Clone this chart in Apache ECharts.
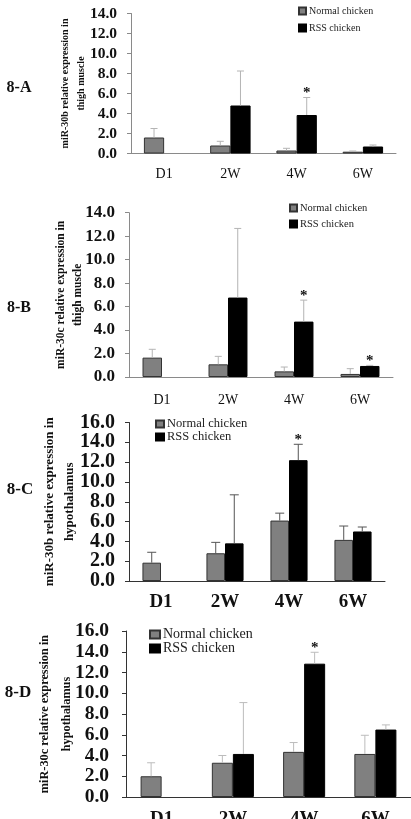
<!DOCTYPE html>
<html lang="en">
<head>
<meta charset="UTF-8">
<title>miR-30b / miR-30c relative expression</title>
<style>
  html, body { margin: 0; padding: 0; background: #fff; }
  #chart { width: 411px; height: 819px; }
</style>
</head>
<body>
<div id="chart"></div>
<script src="https://cdn.jsdelivr.net/npm/echarts@6/dist/echarts.min.js"></script>
<script>
const categories = ['D1', '2W', '4W', '6W'];
const seriesNames = ['Normal chicken', 'RSS chicken'];

// 8-A  miR-30b, thigh muscle
const aNormal   = [1.6, 0.8, 0.3, 0.18];
const aNormalSd = [0.9, 0.42, 0.22, 0.07];
const aRss      = [null, 4.8, 3.85, 0.7];
const aRssSd    = [null, 3.45, 1.75, 0.15];
const aStar     = [0, 0, 1, 0];

// 8-B  miR-30c, thigh muscle
const bNormal   = [1.65, 1.08, 0.48, 0.26];
const bNormalSd = [0.71, 0.68, 0.37, 0.45];
const bRss      = [null, 6.77, 4.72, 0.94];
const bRssSd    = [null, 5.89, 1.83, 0.05];
const bStar     = [0, 0, 1, 1];

// 8-C  miR-30b, hypothalamus
const cNormal   = [1.85, 2.8, 6.1, 4.15];
const cNormalSd = [1.05, 1.1, 0.75, 1.4];
const cRss      = [null, 3.8, 12.2, 5.0];
const cRssSd    = [null, 4.9, 1.6, 0.45];
const cStar     = [0, 0, 1, 0];

// 8-D  miR-30c, hypothalamus
const dNormal   = [2.0, 3.3, 4.35, 4.15];
const dNormalSd = [1.3, 0.7, 0.9, 1.8];
const dRss      = [null, 4.15, 12.85, 6.5];
const dRssSd    = [null, 4.95, 1.1, 0.45];
const dStar     = [0, 0, 1, 0];

const SERIF = "'Liberation Serif', 'Times New Roman', serif";

const panels = [
  { tag: '8-A', yName: 'miR-30b relative expression in\nthigh muscle', max: 14,
    normal: aNormal, normalSd: aNormalSd, rss: aRss, rssSd: aRssSd, star: aStar,
    grid: { left: 131, right: 15, top: 13.5, height: 140 }, gap: 0.39,
    yFont: 15.5, yMargin: 14, xFont: 14, xBold: false, xMargin: 14,
    nameFont: 10, nameLH: 16, nameGap: 42,
    axisColor: '#8a8a8a', errColor: '#b4b4b4', capW: 7,
    legend: { left: 298, top: 2.5, lh: 17, font: 10, w: 7, h: 7 },
    tagPos: [19, 88], tagFont: 16 },
  { tag: '8-B', yName: 'miR-30c relative expression in\nthigh muscle', max: 14,
    normal: bNormal, normalSd: bNormalSd, rss: bRss, rssSd: bRssSd, star: bStar,
    grid: { left: 129, right: 18, top: 212.7, height: 164.3 }, gap: 0.41,
    yFont: 17, yMargin: 14, xFont: 14, xBold: false, xMargin: 16,
    nameFont: 11.5, nameLH: 17, nameGap: 42,
    axisColor: '#8a8a8a', errColor: '#b4b4b4', capW: 7,
    legend: { left: 289, top: 200, lh: 16, font: 10.5, w: 7, h: 7 },
    tagPos: [19, 308], tagFont: 16 },
  { tag: '8-C', yName: 'miR-30b relative expression in\nhypothalamus', max: 16,
    normal: cNormal, normalSd: cNormalSd, rss: cRss, rssSd: cRssSd, star: cStar,
    grid: { left: 129, right: 26, top: 422.5, height: 158.5 }, gap: 0.42,
    yFont: 20, yMargin: 14, xFont: 19, xBold: true, xMargin: 12,
    nameFont: 13, nameLH: 20, nameGap: 49,
    axisColor: '#333', errColor: '#555', capW: 9,
    legend: { left: 155, top: 417.5, lh: 11, font: 12.5, w: 8, h: 7 },
    tagPos: [20, 490], tagFont: 17 },
  { tag: '8-D', yName: 'miR-30c relative expression in\nhypothalamus', max: 16,
    normal: dNormal, normalSd: dNormalSd, rss: dRss, rssSd: dRssSd, star: dStar,
    grid: { left: 126, right: 0, top: 631, height: 166 }, gap: 0.41,
    yFont: 19.5, yMargin: 17, xFont: 19, xBold: true, xMargin: 13,
    nameFont: 12.3, nameLH: 22, nameGap: 48,
    axisColor: '#333', errColor: '#bcbcbc', capW: 8,
    legend: { left: 149, top: 627.5, lh: 13, font: 14, w: 10, h: 8 },
    tagPos: [18, 693], tagFont: 17 }
];

// only the upper half of each error bar is drawn, like the original figure
function errorBars(p, side) {
  return function (params, api) {
    const i = api.value(0), mean = api.value(1), sd = api.value(2), star = api.value(3);
    const bw = api.size([1, 0])[0] * (1 - p.gap) / 2;
    const base = api.coord([i, mean]);
    const x = base[0] + side * bw / 2;
    const yTop = api.coord([i, mean + sd])[1];
    const style = { stroke: p.errColor, lineWidth: 1 };
    const children = [
      { type: 'line', shape: { x1: x, y1: base[1], x2: x, y2: yTop }, style },
      { type: 'line', shape: { x1: x - p.capW / 2, y1: yTop, x2: x + p.capW / 2, y2: yTop }, style }
    ];
    if (star) {
      children.push({ type: 'text', style: {
        text: '*', x: x, y: yTop - 4, align: 'center', verticalAlign: 'middle',
        font: 'bold 15px ' + SERIF, fill: '#111' } });
    }
    return { type: 'group', children };
  };
}

const option = { animation: false, backgroundColor: '#fff',
  grid: [], xAxis: [], yAxis: [], legend: [], series: [], graphic: [] };

panels.forEach((p, k) => {
  option.grid.push(Object.assign({ containLabel: false, outerBoundsMode: 'none' }, p.grid));
  option.xAxis.push({
    type: 'category', gridIndex: k, data: categories,
    axisLine: { lineStyle: { color: p.axisColor, width: 1 } },
    axisTick: { show: false },
    axisLabel: { margin: p.xMargin, fontFamily: SERIF, fontSize: p.xFont,
      fontWeight: p.xBold ? 'bold' : 'normal', color: '#111' }
  });
  option.yAxis.push({
    type: 'value', gridIndex: k, min: 0, max: p.max, interval: 2,
    name: p.yName, nameLocation: 'middle', nameGap: p.nameGap, nameMoveOverlap: false,
    nameTextStyle: { fontFamily: SERIF, fontWeight: 'bold', fontSize: p.nameFont,
      lineHeight: p.nameLH, color: '#111' },
    splitLine: { show: false },
    axisLine: { show: true, lineStyle: { color: p.axisColor, width: 1 } },
    axisTick: { show: true, length: 4, lineStyle: { color: p.axisColor } },
    axisLabel: { margin: p.yMargin, fontFamily: SERIF, fontWeight: 'bold', fontSize: p.yFont,
      color: '#111', formatter: v => v.toFixed(1) }
  });
  option.legend.push({
    orient: 'vertical', left: p.legend.left, top: p.legend.top, padding: 0, itemGap: 0,
    icon: 'rect', itemWidth: p.legend.w, itemHeight: p.legend.h,
    data: seriesNames,
    textStyle: { fontFamily: SERIF, fontSize: p.legend.font, lineHeight: p.legend.lh,
      color: '#222', padding: [0, 0, 0, -2] }
  });
  option.series.push(
    { name: seriesNames[0], type: 'bar', xAxisIndex: k, yAxisIndex: k, data: p.normal,
      barGap: '0%', barCategoryGap: (p.gap * 100) + '%',
      itemStyle: { color: '#808080', borderColor: '#333', borderWidth: 1 } },
    { name: seriesNames[1], type: 'bar', xAxisIndex: k, yAxisIndex: k,
      data: p.rss.map(v => v == null ? '-' : v),
      barGap: '0%', barCategoryGap: (p.gap * 100) + '%',
      itemStyle: { color: '#000', borderColor: '#000', borderWidth: 1 } },
    { type: 'custom', xAxisIndex: k, yAxisIndex: k, z: 5,
      renderItem: errorBars(p, -1), encode: { x: 0, y: 1 },
      data: p.normal.map((v, i) => [i, v, p.normalSd[i], 0]) },
    { type: 'custom', xAxisIndex: k, yAxisIndex: k, z: 5,
      renderItem: errorBars(p, 1), encode: { x: 0, y: 1 },
      data: p.rss.map((v, i) => [i, v, p.rssSd[i], p.star[i]]).filter(d => d[1] != null) }
  );
  option.graphic.push({
    type: 'text', x: p.tagPos[0], y: p.tagPos[1],
    style: { text: p.tag, font: 'bold ' + p.tagFont + 'px ' + SERIF, fill: '#111',
      align: 'center', verticalAlign: 'middle' }
  });
});

const chart = echarts.init(document.getElementById('chart'), null, { renderer: 'canvas' });
chart.setOption(option);
</script>
</body>
</html>
